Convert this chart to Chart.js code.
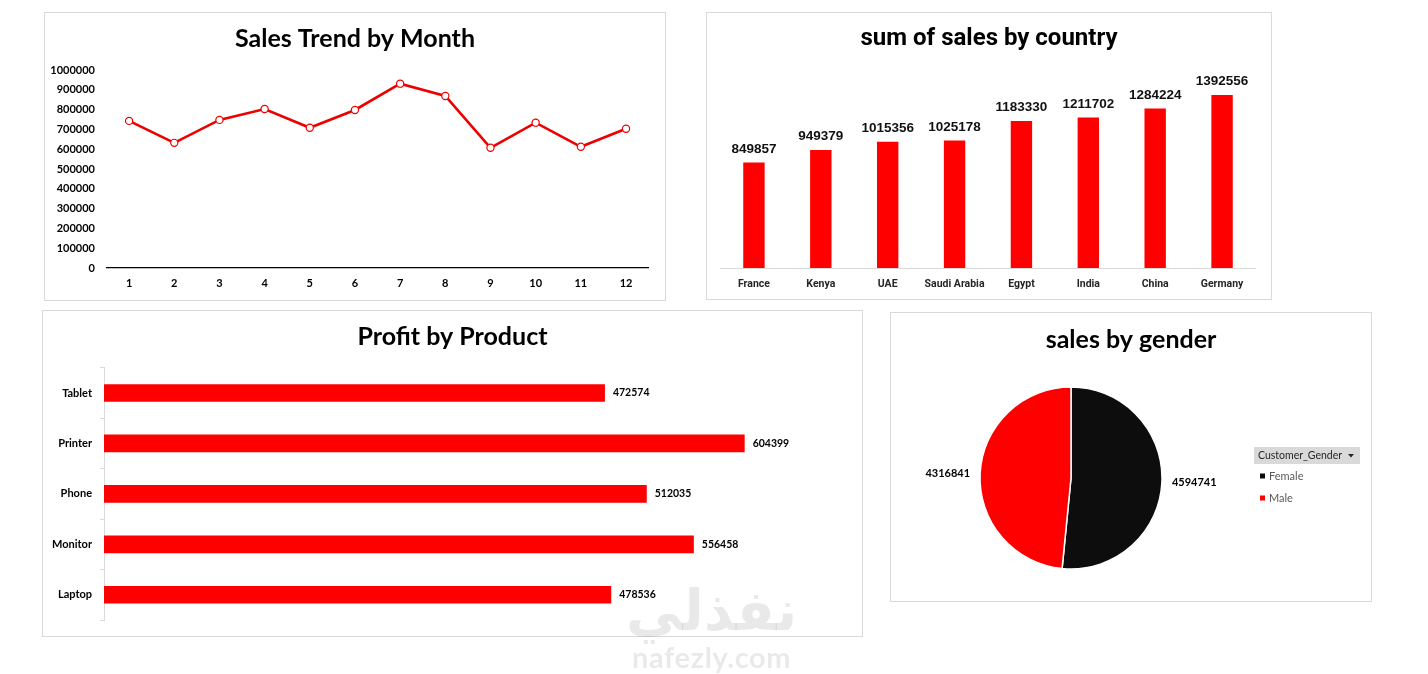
<!DOCTYPE html>
<html lang="en">
<head>
<meta charset="UTF-8">
<title>Sales Dashboard</title>
<style>
  body { margin: 0; background: #fff; width: 1428px; height: 674px; position: relative; overflow: hidden; font-family: Lato, sans-serif; }
  .card { position: absolute; border: 1px solid #d9d9d9; background: #fff; }
  .card canvas { display: block; }
  .mark { position: absolute; color: rgba(0, 0, 0, 0.085); pointer-events: none; white-space: nowrap; }
</style>
</head>
<body>
<div class="card" style="left:44px;top:12px;width:620px;height:287px"><canvas id="monthChart" width="620" height="287"></canvas></div>
<div class="card" style="left:706px;top:12px;width:564px;height:286px"><canvas id="countryChart" width="564" height="286"></canvas></div>
<div class="card" style="left:42px;top:310px;width:819px;height:325px"><canvas id="productChart" width="819" height="325"></canvas></div>
<div class="card" style="left:890px;top:312px;width:480px;height:288px"><canvas id="genderChart" width="480" height="288"></canvas></div>
<div class="mark" style="left:626px;top:578px;font:bold 56px 'DejaVu Sans';direction:rtl">نفذلي</div>
<div class="mark" style="left:632px;top:639px;font:bold 29px Lato;letter-spacing:0.6px">nafezly.com</div>

<script src="https://cdn.jsdelivr.net/npm/chart.js"></script>
<script>
// ---- data ----
const months = ['1', '2', '3', '4', '5', '6', '7', '8', '9', '10', '11', '12'];
const monthSales = [743000, 632000, 748000, 803000, 708000, 798000, 931000, 869000, 607000, 734000, 612000, 703000];

const countries = ['France', 'Kenya', 'UAE', 'Saudi Arabia', 'Egypt', 'India', 'China', 'Germany'];
const countrySales = [849857, 949379, 1015356, 1025178, 1183330, 1211702, 1284224, 1392556];

const products = ['Tablet', 'Printer', 'Phone', 'Monitor', 'Laptop'];
const productProfit = [472574, 604399, 512035, 556458, 478536];

const genders = ['Female', 'Male'];
const genderSales = [4594741, 4316841];
const genderColors = ['#0d0d0d', '#ff0000'];

Chart.defaults.font.family = 'Lato';
Chart.defaults.animation = false;
Chart.defaults.plugins.legend.display = false;
Chart.defaults.plugins.tooltip.enabled = false;

const RED = '#ff0000';

// card title, centred on the whole card (the plot areas are not centred)
const cardTitle = {
    id: 'cardTitle',
    afterDraw(chart, args, opts) {
        const ctx = chart.ctx;
        ctx.save();
        ctx.fillStyle = '#000';
        ctx.font = opts.font;
        ctx.textAlign = 'center';
        ctx.textBaseline = 'middle';
        ctx.fillText(opts.text, chart.width / 2, opts.y);
        ctx.restore();
    }
};

// value labels next to / above the bars
const barValueLabels = {
    id: 'barValueLabels',
    afterDatasetsDraw(chart, args, opts) {
        const ctx = chart.ctx;
        const values = chart.data.datasets[0].data;
        ctx.save();
        ctx.font = opts.font;
        ctx.fillStyle = opts.color;
        ctx.textBaseline = 'middle';
        chart.getDatasetMeta(0).data.forEach((bar, i) => {
            if (opts.horizontal) {
                ctx.textAlign = 'left';
                ctx.fillText(String(values[i]), bar.x + opts.gap, bar.y);
            } else {
                ctx.textAlign = 'center';
                ctx.fillText(String(values[i]), bar.x, bar.y - opts.gap);
            }
        });
        ctx.restore();
    }
};

// ---- Sales Trend by Month ----
new Chart(document.getElementById('monthChart'), {
    type: 'line',
    data: {
        labels: months,
        datasets: [{
            data: monthSales,
            borderColor: '#ee0000',
            borderWidth: 2.6,
            pointRadius: 3.6,
            pointBackgroundColor: '#fff',
            pointBorderColor: '#ee0000',
            pointBorderWidth: 1.2,
            tension: 0
        }]
    },
    options: {
        responsive: false,
        layout: { padding: { left: 0, right: 16.4, top: 57, bottom: 0 } },
        plugins: { cardTitle: { text: 'Sales Trend by Month', font: 'bold 25px Lato', y: 26 } },
        scales: {
            x: {
                offset: true,
                grid: { display: false, drawTicks: false },
                border: { color: '#000', width: 1.3 },
                ticks: { color: '#000', padding: 8.4, font: { size: 11, weight: 'bold' } },
                afterFit(s) { s.height = 32; }
            },
            y: {
                min: 0,
                max: 1000000,
                grid: { display: false, drawTicks: false },
                border: { display: false },
                ticks: {
                    stepSize: 100000, color: '#000', padding: 11.5, font: { size: 11, weight: 'bold' },
                    callback: v => String(v)
                },
                afterFit(s) { s.width = 61.5; }
            }
        }
    },
    plugins: [cardTitle]
});

// ---- sum of sales by country ----
new Chart(document.getElementById('countryChart'), {
    type: 'bar',
    data: {
        labels: countries,
        datasets: [{ data: countrySales, backgroundColor: RED, barPercentage: 0.32, categoryPercentage: 1 }]
    },
    options: {
        responsive: false,
        layout: { padding: { left: 13.5, right: 15.5, top: 56.2, bottom: 0 } },
        plugins: {
            cardTitle: { text: 'sum of sales by country', font: 'bold 24px Roboto', y: 26 },
            barValueLabels: { font: "bold 13.5px 'Liberation Sans'", color: '#111', gap: 13.5 }
        },
        scales: {
            x: {
                grid: { display: false, drawTicks: false },
                border: { color: '#d9d9d9', width: 1 },
                ticks: {
                    color: '#262626', padding: 10.4, autoSkip: false, minRotation: 0, maxRotation: 0,
                    font: { size: 10.5, weight: 'bold', family: 'Roboto' }
                },
                afterFit(s) { s.height = 31; }
            },
            y: { display: false, min: 0, max: 1600000 }
        }
    },
    plugins: [cardTitle, barValueLabels]
});

// ---- Profit by Product ----
new Chart(document.getElementById('productChart'), {
    type: 'bar',
    data: {
        labels: products,
        datasets: [{ data: productProfit, backgroundColor: RED, barPercentage: 0.35, categoryPercentage: 1 }]
    },
    options: {
        responsive: false,
        indexAxis: 'y',
        layout: { padding: { left: 0, right: 16, top: 56.75, bottom: 16 } },
        plugins: {
            cardTitle: { text: 'Profit by Product', font: 'bold 25px Lato', y: 26 },
            barValueLabels: { font: 'bold 10.5px Lato', color: '#000', horizontal: true, gap: 8 }
        },
        scales: {
            x: { display: false, min: 0, max: 700000 },
            y: {
                grid: { display: true, drawOnChartArea: false, drawTicks: true, tickLength: 4, color: '#d9d9d9' },
                border: { color: '#d9d9d9', width: 1 },
                ticks: { color: '#000', padding: 8, font: { size: 11, weight: 'bold' } },
                afterFit(s) { s.width = 61; }
            }
        }
    },
    plugins: [cardTitle, barValueLabels]
});

// ---- sales by gender: outside labels and Excel-like legend ----
const genderExtras = {
    id: 'genderExtras',
    afterDraw(chart) {
        const ctx = chart.ctx;
        const values = chart.data.datasets[0].data;
        ctx.save();
        ctx.fillStyle = '#000';
        ctx.textBaseline = 'middle';

        // value labels just outside each slice
        ctx.font = 'bold 11px Lato';
        chart.getDatasetMeta(0).data.forEach((arc, i) => {
            const mid = (arc.startAngle + arc.endAngle) / 2;
            const r = arc.outerRadius + 10;
            const x = arc.x + r * Math.cos(mid);
            const y = arc.y + r * Math.sin(mid);
            ctx.textAlign = Math.cos(mid) >= 0 ? 'left' : 'right';
            ctx.fillText(String(values[i]), x, y);
        });

        // legend header
        const lx = 363, ly = 134;
        ctx.fillStyle = '#d9d9d9';
        ctx.fillRect(lx, ly, 106, 17);
        ctx.fillStyle = '#262626';
        ctx.font = '10.5px Lato';
        ctx.textAlign = 'left';
        ctx.fillText('Customer_Gender', lx + 4, ly + 8.5);
        ctx.beginPath();
        ctx.moveTo(lx + 94, ly + 7);
        ctx.lineTo(lx + 100, ly + 7);
        ctx.lineTo(lx + 97, ly + 10.5);
        ctx.closePath();
        ctx.fill();

        // legend items
        ctx.font = '11px Lato';
        chart.data.labels.forEach((label, i) => {
            const y = ly + 29 + i * 22;
            ctx.fillStyle = chart.data.datasets[0].backgroundColor[i];
            ctx.fillRect(lx + 6, y - 2.5, 5, 5);
            ctx.fillStyle = '#595959';
            ctx.fillText(label, lx + 15, y);
        });
        ctx.restore();
    }
};

new Chart(document.getElementById('genderChart'), {
    type: 'pie',
    data: {
        labels: genders,
        datasets: [{ data: genderSales, backgroundColor: genderColors, borderColor: '#fff', borderWidth: 1.5 }]
    },
    options: {
        responsive: false,
        layout: { padding: { left: 40, right: 160, top: 73.25, bottom: 31.25 } },
        plugins: { cardTitle: { text: 'sales by gender', font: 'bold 25px Lato', y: 27 } }
    },
    plugins: [cardTitle, genderExtras]
});
</script>
</body>
</html>
